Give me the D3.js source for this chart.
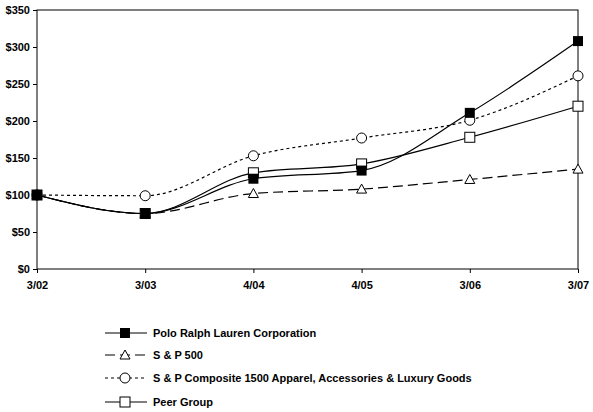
<!DOCTYPE html><html><head><script src="https://cdn.jsdelivr.net/npm/d3@7"></script>
<style>body{margin:0;background:#fff}text{font-family:"Liberation Sans",Arial,sans-serif;font-weight:bold;font-size:11px}</style></head><body><svg id="c" width="593" height="412"></svg><script>
const categories=["3/02","3/03","4/04","4/05","3/06","3/07"];
const polo=[100,75,122,133,211,308];
const sp500=[100,75,102,108,121,135];
const composite=[100,99,153,177,201,261];
const peer=[100,75,130,142,178,220];
const yTicks=[0,50,100,150,200,250,300,350];
const names=["Polo Ralph Lauren Corporation","S & P 500","S & P Composite 1500 Apparel, Accessories & Luxury Goods","Peer Group"];
const svg=d3.select("#c");
const x=d3.scalePoint().domain(categories).range([37,578]);
const y=d3.scaleLinear().domain([0,350]).range([269,10]);
const g=svg.append("g");
g.append("rect").attr("x",37).attr("y",10).attr("width",541).attr("height",259).attr("fill","none").attr("stroke","#000");
const ya=g.append("g").attr("transform","translate(37,0)").call(d3.axisLeft(y).tickValues(yTicks).tickSize(4).tickFormat(d=>"$"+d));
const xa=g.append("g").attr("transform","translate(0,269)").call(d3.axisBottom(x).tickSize(4).tickPadding(8));
[ya,xa].forEach(a=>{a.select(".domain").remove();a.selectAll("text").attr("fill","#000").style("font-size","11px");});
const series=[
 {v:polo,dash:null,m:"fsq"},
 {v:sp500,dash:"10,5",m:"tri"},
 {v:composite,dash:"3,3",m:"circ"},
 {v:peer,dash:null,m:"sq"}];
function marker(sel,m,cx,cy){
 if(m==="fsq")sel.append("rect").attr("x",cx-5).attr("y",cy-5).attr("width",10).attr("height",10).attr("fill","#000");
 else if(m==="sq")sel.append("rect").attr("x",cx-5).attr("y",cy-5).attr("width",10).attr("height",10).attr("fill","#fff").attr("stroke","#000");
 else if(m==="circ")sel.append("circle").attr("cx",cx).attr("cy",cy).attr("r",5).attr("fill","#fff").attr("stroke","#000");
 else sel.append("path").attr("d",`M${cx},${cy-5}L${cx+5},${cy+4}L${cx-5},${cy+4}Z`).attr("fill","#fff").attr("stroke","#000");
}
const line=d3.line().x((d,i)=>x(categories[i])).y(d=>y(d)).curve(d3.curveMonotoneX);
series.slice().reverse().forEach(s=>{
 g.append("path").attr("d",line(s.v)).attr("fill","none").attr("stroke","#000").attr("stroke-width",1.2).attr("stroke-dasharray",s.dash);
 s.v.forEach((d,i)=>marker(g,s.m,x(categories[i]),y(d)));
});
const ly=[333,355,378,402];
series.forEach((s,i)=>{
 svg.append("line").attr("x1",105).attr("x2",147).attr("y1",ly[i]).attr("y2",ly[i]).attr("stroke","#000").attr("stroke-width",1.2).attr("stroke-dasharray",s.dash);
 marker(svg,s.m,125,ly[i]);
 svg.append("text").attr("x",153).attr("y",ly[i]+4).text(names[i]);
});
</script></body></html>
